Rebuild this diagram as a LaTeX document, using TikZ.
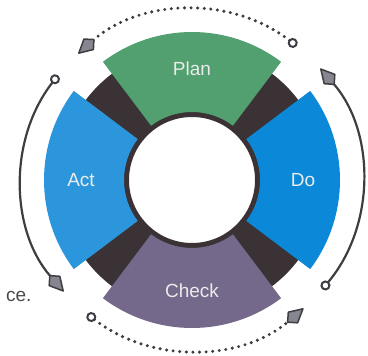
\documentclass[tikz,border=0pt]{standalone}
\usepackage{fontspec}
\newfontfamily\labelfont{Liberation Sans}
\usetikzlibrary{arrows.meta}

\definecolor{plangreen}{HTML}{52A06F}
\definecolor{actblue}{HTML}{2C96DC}
\definecolor{doblue}{HTML}{0B89D8}
\definecolor{checkviolet}{HTML}{74698A}
\definecolor{ringdark}{HTML}{3B3236}
\definecolor{arcgray}{HTML}{3F3D44}
\definecolor{tipgray}{HTML}{86868E}
\definecolor{textgray}{HTML}{4A4A4A}

\begin{document}
\begin{tikzpicture}[
  lbl/.style={font=\labelfont\fontsize{19}{22}\selectfont, text=white!92!black},
  cycle arc/.style={line width=2.2pt, draw=arcgray,
    {Circle[fill=white, length=10pt, line width=2pt]}-{Kite[length=23pt, width=16pt, inset=8pt, round, fill=tipgray, line width=1.5pt]}},
  dotted arc/.style={cycle arc, line width=3.4pt, dash pattern=on 0pt off 6.6pt, line cap=round}
]
\useasboundingbox (-192pt,-176pt) rectangle (176pt,180pt);

% dark ring behind the four phases
\fill[ringdark, even odd rule] (0,0) circle[radius=133pt] (0,0) circle[radius=63pt];

% phases
\foreach \ang/\col/\name/\txt in {90/plangreen/plan/Plan, 180/actblue/act/Act,
    270/checkviolet/check/Check, 0/doblue/do/Do} {
  \fill[\col] ({\ang-37}:68pt) arc[start angle=\ang-37, end angle=\ang+37, radius=68pt]
    -- ({\ang+37}:148pt) arc[start angle=\ang+37, end angle=\ang-37, radius=148pt] -- cycle;
  \node[lbl] (\name) at (\ang:111pt) {\txt};
}

% arrows round the cycle
\coordinate (topstart) at (52:170pt);
\coordinate (leftstart) at (142:170pt);
\coordinate (bottomstart) at (232:170pt);
\coordinate (rightstart) at (320:170pt);
\draw[dotted arc] (topstart) arc[start angle=52, end angle=132, radius=170pt];
\draw[cycle arc] (leftstart) arc[start angle=142, end angle=221, radius=170pt];
\draw[dotted arc] (bottomstart) arc[start angle=232, end angle=311, radius=170pt];
\draw[cycle arc] (rightstart) arc[start angle=320, end angle=401, radius=170pt];

\node[anchor=base east, font=\labelfont\fontsize{19}{22}\selectfont, text=textgray] (cutoff) at (-157pt,-122pt) {ce.};
\end{tikzpicture}
\end{document}
